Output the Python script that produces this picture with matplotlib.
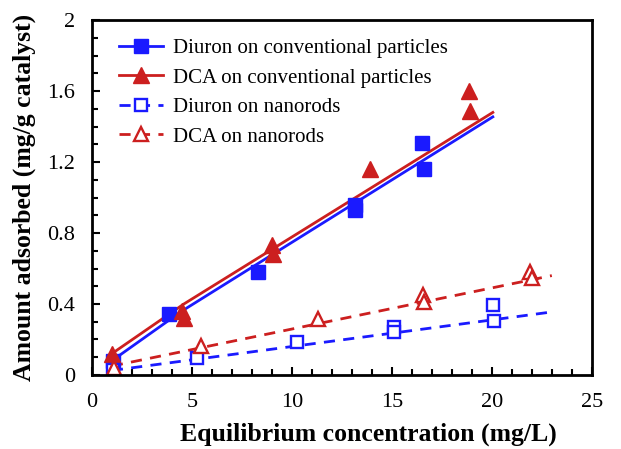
import matplotlib
matplotlib.use('Agg')
from matplotlib import pyplot as plt
from matplotlib.ticker import MultipleLocator

plt.rcParams['font.family'] = ['Liberation Serif', 'DejaVu Serif']

# measured points
diuron_conv_x = [1.05, 3.85, 8.3, 13.15, 13.15, 16.5, 16.6]
diuron_conv_y = [0.08, 0.345, 0.58, 0.96, 0.93, 1.31, 1.16]
dca_conv_x = [1.0, 4.5, 4.6, 9.0, 9.05, 13.9, 18.85, 18.9]
dca_conv_y = [0.12, 0.36, 0.32, 0.73, 0.68, 1.16, 1.60, 1.49]
diuron_nano_x = [1.05, 5.25, 10.25, 15.1, 15.1, 20.05, 20.1]
diuron_nano_y = [0.025, 0.095, 0.185, 0.27, 0.24, 0.395, 0.305]
dca_nano_x = [1.1, 5.45, 11.3, 16.55, 16.6, 21.9, 22.0]
dca_nano_y = [0.04, 0.165, 0.315, 0.45, 0.41, 0.58, 0.545]

# fitted curves
diuron_conv_fit_x = [1.0, 4.5, 20.05]
diuron_conv_fit_y = [0.08, 0.36, 1.455]
dca_conv_fit_x = [1.0, 4.6, 20.05]
dca_conv_fit_y = [0.12, 0.40, 1.48]
diuron_nano_fit_x = [1.0, 23.0]
diuron_nano_fit_y = [0.025, 0.355]
dca_nano_fit_x = [1.0, 23.0]
dca_nano_fit_y = [0.05, 0.56]

blue = '#1a1aff'
red = '#cc1f1f'

fig = plt.figure(figsize=(6.21, 4.49), dpi=100)
ax = fig.add_axes([0.148, 0.165, 0.805, 0.79])

ax.plot(diuron_conv_fit_x, diuron_conv_fit_y, '-', color=blue, lw=2)
ax.plot(dca_conv_fit_x, dca_conv_fit_y, '-', color=red, lw=2)
ax.plot(diuron_nano_fit_x, diuron_nano_fit_y, '--', color=blue, lw=2, dashes=(4, 3))
ax.plot(dca_nano_fit_x, dca_nano_fit_y, '--', color=red, lw=2, dashes=(4, 3))

ax.plot(diuron_conv_x, diuron_conv_y, 's', color=blue, ms=10, ls='none')
ax.plot(dca_conv_x, dca_conv_y, '^', color=red, ms=11, ls='none')
ax.plot(diuron_nano_x, diuron_nano_y, 's', mfc='white', mec=blue, mew=1.7, ms=9, ls='none')
ax.plot(dca_nano_x, dca_nano_y, '^', mfc='white', mec=red, mew=1.7, ms=10, ls='none')

# legend proxies: line + marker
h1, = ax.plot([], [], '-s', color=blue, lw=2, ms=10)
h2, = ax.plot([], [], '-^', color=red, lw=2, ms=11)
h3, = ax.plot([], [], '--s', color=blue, lw=2, ms=9, mfc='white', mew=1.7, dashes=(4, 3))
h4, = ax.plot([], [], '--^', color=red, lw=2, ms=10, mfc='white', mew=1.7, dashes=(4, 3))
ax.legend([h1, h2, h3, h4],
          ['Diuron on conventional particles', 'DCA on conventional particles',
           'Diuron on nanorods', 'DCA on nanorods'],
          loc='upper left', frameon=False, fontsize=15, handlelength=2.1,
          handletextpad=0.5, labelspacing=0.48,
          bbox_to_anchor=(0.025, 0.99), borderaxespad=0.3)

ax.set_xlim(0, 25)
ax.set_ylim(0, 2)
ax.xaxis.set_major_locator(MultipleLocator(5))
ax.xaxis.set_minor_locator(MultipleLocator(1))
ax.yaxis.set_minor_locator(MultipleLocator(0.1))
ax.set_yticks([0, 0.4, 0.8, 1.2, 1.6, 2.0])
ax.set_yticklabels(['0', '0.4', '0.8', '1.2', '1.6', '2'])
ax.tick_params(which='both', direction='in', labelsize=16, width=1.5)
ax.tick_params(which='major', length=6)
ax.tick_params(axis='y', which='major', pad=12)
ax.tick_params(axis='x', which='major', pad=13)
ax.tick_params(which='minor', length=4)
for s in ax.spines.values():
    s.set_linewidth(2)

ax.set_xlabel('Equilibrium concentration (mg/L)', fontsize=18.5, fontweight='bold', labelpad=9)
ax.xaxis.set_label_coords(0.554, -0.135)
ax.set_ylabel('Amount adsorbed (mg/g catalyst)', fontsize=18.5, fontweight='bold', labelpad=8)

fig.savefig('out.png', dpi=100)
